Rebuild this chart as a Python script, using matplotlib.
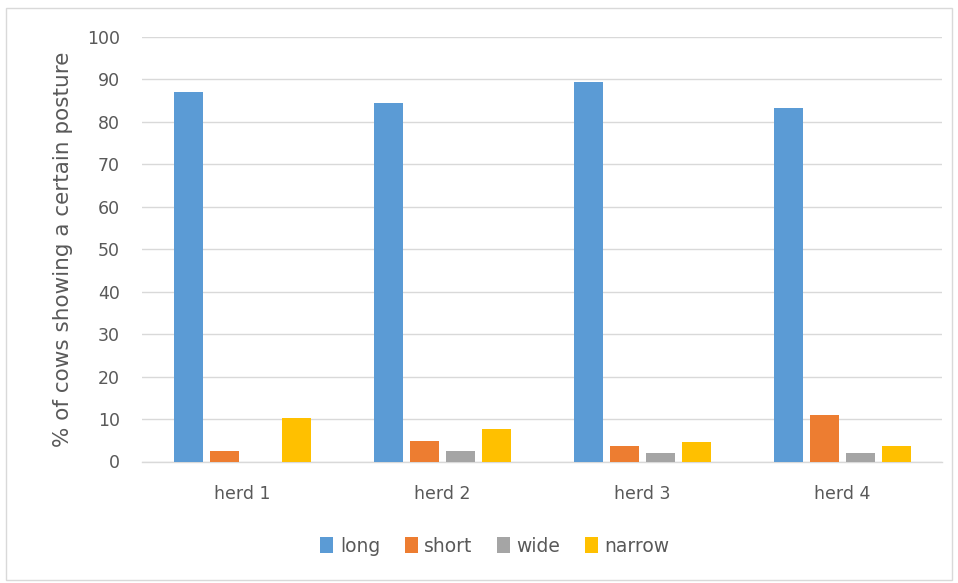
import matplotlib
matplotlib.use("Agg")
import matplotlib.pyplot as plt
from matplotlib.patches import Rectangle
import numpy as np

plt.rcParams['font.family'] = ['DejaVu Sans']

herds = ["herd 1", "herd 2", "herd 3", "herd 4"]
series = ["long", "short", "wide", "narrow"]
long_vals = [87.0, 84.5, 89.3, 83.3]
short_vals = [2.5, 4.9, 3.7, 11.0]
wide_vals = [0.0, 2.5, 1.9, 1.9]
narrow_vals = [10.3, 7.7, 4.6, 3.7]
colors = ["#5B9BD5", "#ED7D31", "#A5A5A5", "#FFC000"]
yticks = list(range(0, 101, 10))

text_color = "#595959"

fig = plt.figure(figsize=(9.58, 5.83), dpi=100)
# chart area frame
fig.patches.append(Rectangle((6 / 958, 3 / 583), 946 / 958, 572 / 583,
                             transform=fig.transFigure, fill=False,
                             edgecolor="#D9D9D9", linewidth=1.0))

ax = fig.add_axes([142 / 958, 1 - 461.5 / 583, 800 / 958, 424.5 / 583])

x = np.arange(len(herds))
step = 0.18
width = 0.145
all_vals = [long_vals, short_vals, wide_vals, narrow_vals]
for i, (name, vals, c) in enumerate(zip(series, all_vals, colors)):
    offs = (i - 1.5) * step
    ax.bar(x + offs, vals, width=width, color=c, label=name, zorder=3)

ax.set_xlim(-0.5, len(herds) - 0.5)
ax.set_ylim(0, 100)
ax.set_yticks(yticks)
ax.set_xticks(x)
ax.set_xticklabels(herds)
ax.yaxis.grid(True, color="#D9D9D9", linewidth=1.0, zorder=0)
for s in ["top", "right", "left"]:
    ax.spines[s].set_visible(False)
ax.spines["bottom"].set_color("#D9D9D9")
ax.spines["bottom"].set_linewidth(1.0)
ax.tick_params(axis="both", length=0, colors=text_color, labelsize=12.5)
ax.tick_params(axis="y", pad=16)
ax.tick_params(axis="x", pad=17)
ax.set_ylabel("% of cows showing a certain posture", color=text_color,
              fontsize=15.5, labelpad=10)

leg = fig.legend(loc="center", bbox_to_anchor=(495 / 958, 1 - 546 / 583),
                 ncol=4, frameon=False, fontsize=13.5, handlelength=0.7,
                 handleheight=1.0, handletextpad=0.35, columnspacing=1.3)
for t in leg.get_texts():
    t.set_color(text_color)

fig.savefig("out.png", dpi=100)
